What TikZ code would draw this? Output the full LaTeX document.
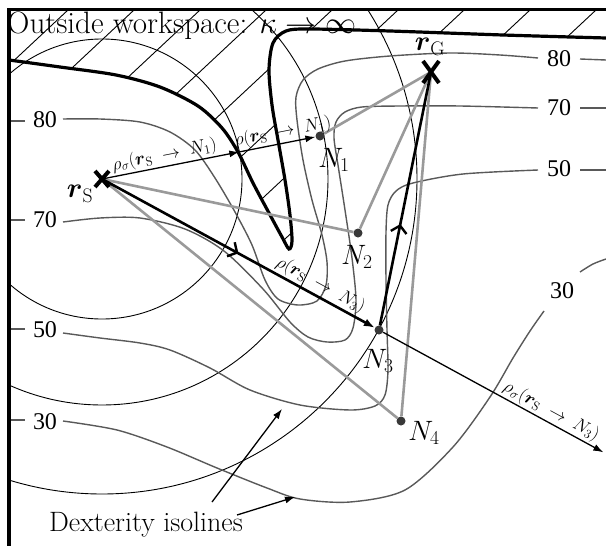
\RequirePackage{fix-cm}
\documentclass[tikz,border=0pt]{standalone}
\usepackage{amsmath}
\usepackage{fontspec}
\newfontfamily\numfont{Liberation Serif}
\usetikzlibrary{arrows.meta,decorations.markings,calc}
\definecolor{isogray}{HTML}{595959}
\definecolor{edgegray}{HTML}{9A9A9A}
\definecolor{dotgray}{HTML}{383838}
\newcommand{\rarr}{\mathrel{\;\rightarrow\;}}
\tikzset{
  iso/.style={draw=isogray,line width=1.4pt},
  isolab/.style={font=\numfont\fontsize{24}{27}\selectfont,inner sep=0pt},
  hatchline/.style={line width=0.9pt},
  ring/.style={line width=0.9pt},
  bound/.style={line width=3.2pt},
  grayedge/.style={draw=edgegray,line width=2.6pt},
  thickedge/.style={line width=2.6pt},
  thinarrow/.style={line width=1.3pt,-{Latex[length=10pt,width=7pt]}},
  chev/.style={postaction={decorate},decoration={markings,mark=at position #1 with {\arrow{Straight Barb[length=7pt,width=16pt,line width=2.4pt]}}}},
  dotnode/.style={circle,fill=dotgray,minimum size=9pt,inner sep=0pt},
  biglab/.style={font=\fontsize{28}{32}\selectfont,inner sep=0pt},
  titlelab/.style={font=\fontsize{31}{35}\selectfont,inner sep=0pt},
  rholab/.style={font=\fontsize{18}{21}\selectfont,inner sep=1.5pt,sloped,above},
  xmark/.style={line width=4pt},
}
\begin{document}
\begin{tikzpicture}[x=1pt,y=-1pt]
\useasboundingbox (0,0) rectangle (606,546);
\coordinate (rS) at (102,179);
\coordinate (rG) at (431,72);
\begin{scope}
\clip (9,10) rectangle (606,546);
% hatching of the outside region
\begin{scope}
\clip plot[smooth,tension=.5] coordinates {(9,60) (60,67) (116,75) (160,87) (198,106) (222,128) (238,152) (253,183) (269,213) (282,237) (289,249) (292,241) (290,215) (285,180) (278,140) (272,105) (269,70) (273,43) (286,31) (310,29) (390,31) (503,35) (606,38)} -- (606,0) -- (0,0) -- cycle;
\foreach \k in {0,...,9} \draw[hatchline] ({12.7+66*\k},0) -- ({-308.3+66*\k},300);
\end{scope}
% workspace boundary
\draw[bound] plot[smooth,tension=.5] coordinates {(9,60) (60,67) (116,75) (160,87) (198,106) (222,128) (238,152) (253,183) (269,213) (282,237) (289,249) (292,241) (290,215) (285,180) (278,140) (272,105) (269,70) (273,43) (286,31) (310,29) (390,31) (503,35) (606,38)};
% circles around r_S
\draw[ring] (rS) circle[radius=140pt];
\draw[ring] (rS) circle[radius=226pt];
\draw[ring] (rS) circle[radius=315pt];
% dexterity isolines
\draw[iso] (9,121) -- (25,121);
\draw[iso] plot[smooth,tension=.5] coordinates {(63,119) (100,119) (140,122) (170,132) (195,150) (215,178) (235,212) (252,245) (265,280) (278,299) (298,305) (317,301) (326,285) (327,262) (322,235) (312,200) (303,160) (297,120) (296,97) (303,80) (318,69) (345,61) (390,56) (450,53) (500,55) (538,58)};
\draw[iso] (580,59) -- (606,60);
\draw[iso] (9,220) -- (25,220);
\draw[iso] plot[smooth,tension=.5] coordinates {(63,222) (100,218) (140,218) (185,229) (224,251) (263,289) (290,322) (308,337) (327,342) (345,340) (353,328) (356,300) (352,258) (345,210) (338,165) (334,138) (336,122) (345,112) (362,107) (400,106) (460,106) (538,108)};
\draw[iso] (580,108) -- (606,108);
\draw[iso] (9,329) -- (25,329);
\draw[iso] plot[smooth,tension=.5] coordinates {(63,333) (100,338) (140,343) (170,350) (210,368) (250,390) (300,405) (350,410) (375,406) (385,395) (388,370) (387,330) (386,280) (386,232) (388,205) (396,191) (413,183) (463,174) (538,170)};
\draw[iso] (580,170) -- (606,170);
\draw[iso] (9,420) -- (25,420);
\draw[iso] plot[smooth,tension=.5] coordinates {(63,421) (117,430) (167,447) (217,468) (267,488) (300,499) (350,502) (405,490) (453,447) (490,397) (513,358) (530,331) (544,311)};
\draw[iso] plot[smooth,tension=.5] coordinates {(580,272) (593,264) (606,259)};
\end{scope}
% isoline labels
\node[isolab] (l80a) at (45,120) {80};
\node[isolab] (l70a) at (45,220) {70};
\node[isolab] (l50a) at (45,330) {50};
\node[isolab] (l30a) at (45,422) {30};
\node[isolab] (l80b) at (559,59) {80};
\node[isolab] (l70b) at (559,108) {70};
\node[isolab] (l50b) at (559,169) {50};
\node[isolab] (l30b) at (562,291) {30};
% nodes
\node[dotnode] (N1) at (320,136) {};
\node[dotnode] (N2) at (358,233) {};
\node[dotnode] (N3) at (379,330) {};
\node[dotnode] (N4) at (401,421) {};
% gray edges
\draw[grayedge] (rS) -- (N2);
\draw[grayedge] (rS) -- (N4);
\draw[grayedge] (N1) -- (rG);
\draw[grayedge] (N2) -- (rG);
\draw[grayedge] (N4) -- (rG);
% black edges
\coordinate (c1) at ($(rS)!140pt!(N1)$);
\coordinate (e3) at ($(rS)!1.81!(N3)$);
\draw[thinarrow] (rS) -- node[rholab,pos=.47] {$\rho_\sigma(\boldsymbol{r}_\mathrm{S} \rarr N_1)$} (c1);
\draw[thinarrow] (c1) -- node[rholab,pos=.6] {$\rho(\boldsymbol{r}_\mathrm{S} \rarr N_1)$} (N1);
\draw[thickedge,-{Latex[length=11pt,width=8pt]},chev=.5] (rS) -- node[rholab,pos=.78] {$\rho(\boldsymbol{r}_\mathrm{S} \rarr N_3)$} (N3);
\draw[thinarrow] (N3) -- node[rholab,pos=.74] {$\rho_\sigma(\boldsymbol{r}_\mathrm{S} \rarr N_3)$} (e3);
\draw[thickedge,chev=.4] (N3) -- (rG);
% start and goal marks
\draw[xmark] ($(rS)+(-7,-8)$) -- ($(rS)+(7,8)$) ($(rS)+(-7,8)$) -- ($(rS)+(7,-8)$);
\draw[xmark] ($(rG)+(-8,-11)$) -- ($(rG)+(8,11)$) ($(rG)+(-8,11)$) -- ($(rG)+(8,-11)$);
% labels
\node[biglab] (lrS) at (80,194) {$\boldsymbol{r}_\mathrm{S}$};
\node[biglab] (lrG) at (430,47) {$\boldsymbol{r}_\mathrm{G}$};
\node[biglab] (lN1) at (334,160) {$N_1$};
\node[biglab] (lN2) at (357,257) {$N_2$};
\node[biglab] (lN3) at (378,361) {$N_3$};
\node[biglab] (lN4) at (424,433) {$N_4$};
\node[titlelab,anchor=base west] (title) at (7,33) {Outside workspace: $\kappa \rightarrow \infty$};
\node[biglab] (dex) at (146,525) {Dexterity isolines};
\coordinate (d1) at (212,502);
\coordinate (d1t) at (282,409);
\coordinate (d2) at (237,515);
\coordinate (d2t) at (295,497);
\draw[thinarrow] (d1) -- (d1t);
\draw[thinarrow] (d2) -- (d2t);
% frame
\draw[line width=3.5pt] (9,546) -- (9,9.5) -- (606,9.5);
\end{tikzpicture}
\end{document}
